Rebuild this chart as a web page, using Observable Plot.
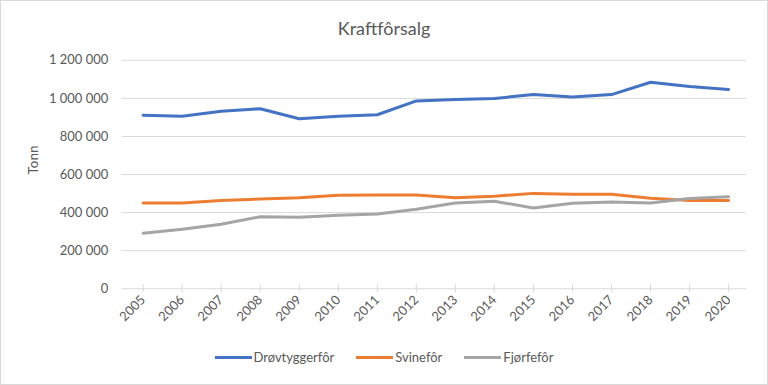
<!DOCTYPE html>
<html>
<head>
<meta charset="utf-8">
<script src="https://cdn.jsdelivr.net/npm/d3@7"></script>
<script src="https://cdn.jsdelivr.net/npm/@observablehq/plot@0.6"></script>
<style>
  html, body { margin: 0; padding: 0; background: #fff; }
  #wrap { position: relative; width: 768px; height: 385px; box-sizing: border-box; border: 1px solid #d9d9d9; font-family: Lato, "Open Sans", sans-serif; color: #595959; overflow: hidden; }
  #wrap svg { position: absolute; left: -1px; top: -1px; }
  #title { position: absolute; left: 0; right: 0; top: 16px; text-align: center; font-size: 18px; color: #595959; }
  #legend { position: absolute; left: 0; right: 0; top: 348px; display: flex; justify-content: center; gap: 22px; font-size: 13px; color: #595959; }
  .item { display: flex; align-items: center; }
  .sw { width: 37px; height: 3px; margin-right: 2px; }
</style>
</head>
<body>
<div id="wrap">
  <div id="title">Kraftfôrsalg</div>
  <div id="legend"></div>
</div>
<script>
const years = [2005, 2006, 2007, 2008, 2009, 2010, 2011, 2012, 2013, 2014, 2015, 2016, 2017, 2018, 2019, 2020];
const seriesNames = ["Drøvtyggerfôr", "Svinefôr", "Fjørfefôr"];
const colors = ["#4472c4", "#ed7d31", "#a5a5a5"];
const drovtygger = [912000, 906000, 932000, 946000, 893000, 906000, 914000, 987000, 994000, 1000000, 1020000, 1007000, 1020000, 1085000, 1062000, 1047000];
const svine = [450000, 450000, 463000, 471000, 478000, 491000, 492000, 492000, 478000, 486000, 501000, 496000, 496000, 476000, 463000, 463000];
const fjorfe = [292000, 313000, 339000, 378000, 376000, 386000, 393000, 418000, 450000, 460000, 424000, 449000, 456000, 450000, 474000, 483000];
const yTicks = [0, 200000, 400000, 600000, 800000, 1000000, 1200000];

const seriesValues = [drovtygger, svine, fjorfe];
const data = seriesNames.flatMap((name, i) => years.map((year, j) => ({ year, value: seriesValues[i][j], series: name })));

const nf = d3.formatLocale({ thousands: "\u00a0", grouping: [3], decimal: "," }).format(",");

const plot = Plot.plot({
  width: 768,
  height: 385,
  marginTop: 60,
  marginBottom: 96,
  marginLeft: 143,
  marginRight: 38,
  style: { fontFamily: "Lato, 'Open Sans', sans-serif", fontSize: "13px", color: "#595959", background: "transparent" },
  x: { domain: [2005, 2020] },
  y: { domain: [0, 1200000] },
  color: { domain: seriesNames, range: colors },
  marks: [
    Plot.ruleY(yTicks, { y: d => d, stroke: "#d9d9d9", strokeWidth: 1, insetLeft: -21, insetRight: -18 }),
    Plot.ruleX(years, { x: d => d, y1: 0, y2: 0, insetTop: -4, insetBottom: -4, stroke: "#d9d9d9" }),
    Plot.axisY({ ticks: yTicks, tickSize: 0, tickPadding: 35, tickFormat: nf, label: null, fill: "#595959", fontSize: 13 }),
    Plot.axisX({ ticks: years, tickSize: 0, tickPadding: 9, tickRotate: -45, tickFormat: d => String(d), label: null, fill: "#595959", fontSize: 13 }),
    Plot.text(["Tonn"], { text: d => d, frameAnchor: "left", dx: -110, rotate: -90, fill: "#595959", fontSize: 13.5 }),
    Plot.line(data, { x: "year", y: "value", z: "series", stroke: "series", strokeWidth: 3, curve: "linear" })
  ]
});
document.getElementById("wrap").appendChild(plot);

const legend = document.getElementById("legend");
seriesNames.forEach((name, i) => {
  const item = document.createElement("div");
  item.className = "item";
  const sw = document.createElement("div");
  sw.className = "sw";
  sw.style.background = colors[i];
  const label = document.createElement("span");
  label.textContent = name;
  item.appendChild(sw);
  item.appendChild(label);
  legend.appendChild(item);
});
</script>
</body>
</html>
